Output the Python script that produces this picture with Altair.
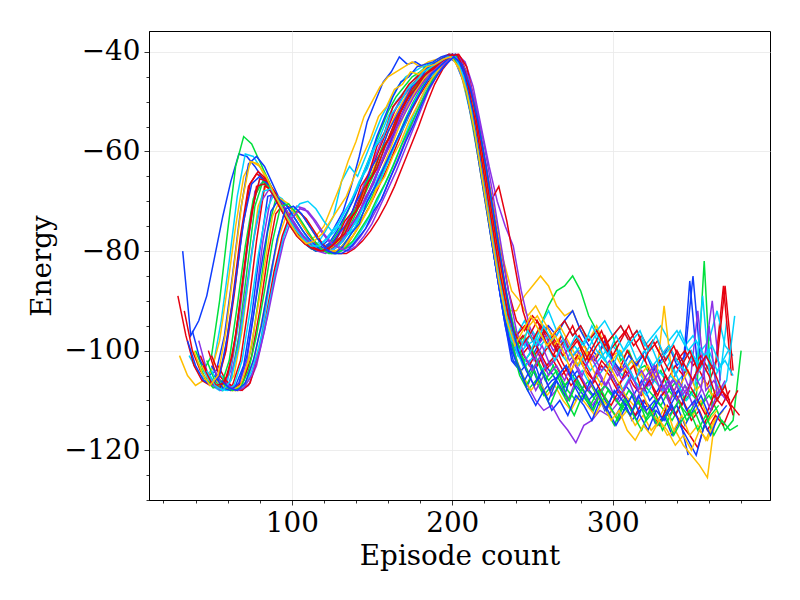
import altair as alt
import pandas as pd

# start episode of each run (samples every 5 episodes)
run_start = [32, 40, 36, 30, 38, 29, 42, 45, 47, 44, 48, 50, 52, 55, 50, 56, 57, 58, 54, 50,
             33, 35, 41, 46, 49, 53, 45, 52, 58, 60, 43, 47, 39, 56]
run_color = ["blue", "green", "cyan", "orange", "blue", "red", "purple", "cyan", "green", "orange",
             "red", "blue", "purple", "green", "red", "cyan", "orange", "purple", "red", "cyan",
             "red", "blue", "green", "purple", "cyan", "orange", "red", "blue", "green", "purple",
             "red", "cyan", "orange", "blue"]

run00 = [-80, -97, -94, -89, -81, -73, -66, -60.5, -61, -63, -65.5, -68, -71, -73.5, -76, -78, -79.5, -79.5, -78, -75, -72, -67, -61, -54, -50, -46, -44, -41, -42.5, -42, -43, -42.5, -42, -41, -42, -46, -53, -62, -72, -83, -93, -102, -104, -107, -103, -108, -106, -105, -110, -107, -109, -112, -108, -111, -113, -110, -114, -112, -111, -115, -113, -117, -114, -121]
run01 = [-100, -104, -101, -90, -76, -63, -57, -58.5, -62, -65.5, -69, -72.5, -75.5, -77.5, -79, -80, -79.5, -78, -75.5, -72, -68, -64, -60, -56, -52, -49, -47, -45, -44, -42.5, -42, -41, -40.5, -43, -49, -58, -68, -78, -88, -95, -99, -97, -100, -95, -91, -88, -87, -85, -88, -93, -96, -99, -97, -102, -100, -104, -103, -106, -104, -108, -106, -110, -108, -111, -109, -112, -116, -114, -100]
run02 = [-101, -104, -106, -103, -94, -82, -69, -60.5, -61, -63.5, -66.5, -70, -73, -75.5, -77.5, -79, -78.5, -76, -73, -66, -63, -65, -61, -57, -53, -50, -47, -45, -44, -43, -42.5, -42, -41, -41, -45, -52, -61, -71, -81, -90, -97, -101, -99, -98, -101, -97, -100, -102, -99, -101, -104, -102, -100, -103, -105, -102, -104, -107, -103, -105, -102, -106, -104, -107, -105, -102, -108, -94]
run03 = [-101, -105, -107, -106, -104, -98, -87, -75, -65, -62, -63, -66, -69.5, -72.5, -75, -77, -78, -77, -75, -71, -67, -62, -58, -53, -50, -47, -45, -44, -43, -42, -43, -42, -41.5, -41, -41, -44, -50, -59, -69, -79, -87, -92, -92, -89, -87, -85, -87, -91, -93, -92, -96, -98, -95, -99, -101, -100, -104, -102, -106, -105, -108, -110, -107, -111, -113, -110, -114, -112]
run04 = [-96, -102, -105, -104, -97, -85, -72, -62.5, -61, -63, -66.5, -70, -73.5, -76, -78, -79.5, -79.5, -78.5, -76, -73, -70, -66, -62, -57, -53, -49, -46, -45, -43, -42.5, -42, -41, -40.5, -42, -47, -55, -65, -75, -85, -95, -102, -104, -102, -106, -103, -105, -108, -106, -104, -107, -109, -106, -108, -110, -107, -109, -106, -110, -108, -105, -109, -107, -86, -104]
run05 = [-89, -97, -103, -106, -107, -106, -100, -89, -76, -66.5, -64, -65.5, -68.5, -71.5, -74.5, -77, -78.5, -79.5, -80, -79.5, -78, -75.5, -72, -68, -64, -60, -56, -52, -49, -47, -45, -43.5, -42.5, -41.5, -40.5, -42, -47, -55, -65, -75, -85, -94, -99, -97, -100, -98, -95, -98, -101, -99, -97, -100, -102, -99, -101, -104, -100, -103, -101, -105, -102, -106, -103, -105, -101, -104, -107, -103, -87, -105]
run06 = [-98, -104, -107, -107.5, -104, -94, -80, -68, -66, -67.5, -70.5, -73.5, -76, -78, -79.5, -80, -79.5, -78, -75.5, -72.5, -69, -65, -61, -57, -53, -50, -48, -46, -44.5, -43, -42, -41, -41, -44, -51, -60, -70, -80, -90, -98, -104, -107, -110, -112, -111, -114, -116, -118.5, -115, -114, -112, -113, -111, -109, -112, -110, -113, -111, -108, -112, -110]
run07 = [-104, -107, -108, -106, -98, -85, -72, -65.5, -66, -69, -72, -74.5, -76.5, -78.5, -79, -78, -76, -74, -71, -68, -64, -60, -57, -53, -50, -48, -46, -44, -43, -42, -41.5, -40.5, -43, -49, -57, -67, -77, -87, -94, -97, -94, -98, -95, -92, -96, -94, -97, -95, -98, -96, -94, -97, -95, -98, -96, -99, -97, -95, -98, -96, -99, -97, -100, -98, -92, -99, -101]
run08 = [-102, -106, -108, -106, -97, -84, -71, -66, -67.5, -70.5, -73.5, -76, -78, -79.5, -80, -80, -79, -77, -74.5, -71, -67.5, -64, -60, -56, -52.5, -49.5, -47, -45, -43, -42, -41, -41, -45, -52, -61, -71, -81, -91, -99, -105, -108, -106, -109, -107, -105, -108, -110, -107, -109, -111, -108, -110, -112, -109, -111, -113, -110, -112, -114, -111, -113, -110, -82, -112]
run09 = [-103, -106, -107, -107.5, -105, -96, -83, -71, -67, -68, -71, -74, -76.5, -78.5, -79.5, -80, -79.5, -78, -75.5, -72.5, -69, -65, -61, -57, -53, -50, -47.5, -45.5, -44, -42.5, -41.5, -40.5, -42.5, -48, -56, -66, -76, -86, -95, -101, -105, -108, -106, -109, -107, -110, -112, -109, -111, -113, -110, -112, -114, -112, -115, -113, -116, -114, -117, -116, -119, -121, -123, -125.5, -113]
run10 = [-100, -105, -107, -107, -102, -91, -78, -67, -67.5, -70, -73, -75.5, -77.5, -79, -80, -80, -79, -77, -74.5, -71.5, -68, -64.5, -61, -57, -53, -50, -47.5, -45.5, -43.5, -42, -40.5, -41, -45, -52, -61, -71, -81, -90, -97, -100, -103, -100, -104, -102, -105, -103, -101, -104, -106, -103, -105, -108, -104, -107, -109, -106, -110, -108, -112, -115, -117, -119.5, -114, -111, -108, -110]
run11 = [-103, -106, -107.5, -107, -103, -93, -80, -69, -68.5, -71, -73.5, -76, -78, -79.5, -80, -80, -78.5, -76.5, -74, -70.5, -67, -63, -59, -55, -51.5, -48.5, -46, -44, -42.5, -41.5, -40.5, -43, -48, -56, -66, -77, -87, -96, -100, -98, -101, -98, -95, -97, -94, -92, -96, -99, -101, -98, -102, -104, -101, -103, -100, -104, -102, -99, -103, -101, -85, -103]
run12 = [-104, -107, -108, -107, -102, -91, -78, -69, -69.5, -72, -74.5, -77, -78.5, -79.5, -80, -79.5, -78, -75.5, -72.5, -69, -65, -61, -57, -53.5, -50.5, -48, -45.5, -43.5, -42, -41, -40.5, -44, -50, -59, -69, -79, -88, -96, -101, -104, -108, -105, -109, -107, -110, -106, -108, -111, -109, -106, -110, -108, -105, -109, -107, -104, -108, -106, -103, -107, -105, -102, -90, -106]
run13 = [-106, -107.5, -108, -106, -99, -88, -76, -69.5, -70, -72.5, -75, -77.5, -79, -80, -80.5, -79.5, -77.5, -75, -72, -69, -65.5, -62, -58, -54, -50.5, -47.5, -45, -43, -41.5, -41, -43, -48, -56, -65, -75, -85, -94, -99, -102, -100, -103, -106, -104, -107, -105, -108, -106, -109, -107, -109, -111, -108, -110, -107, -109, -111, -108, -110, -107, -109, -111, -108, -110, -107]
run14 = [-101, -105, -107, -107.5, -106, -101, -92, -81, -72.5, -70.5, -71.5, -74, -76.5, -78.5, -80, -80.5, -80, -78.5, -76, -73, -70, -66.5, -63, -59, -55, -51.5, -48.5, -46, -44, -42, -40.5, -41, -45, -52, -61, -70, -79, -88, -94, -96, -93, -95, -98, -96, -94, -97, -95, -98, -96, -99, -97, -95, -98, -96, -100, -98, -101, -99, -102, -100, -103, -101, -104, -102, -87, -104]
run15 = [-105, -107, -108, -107, -104, -97, -87, -77.5, -71.5, -71, -72.5, -75, -77.5, -79, -80, -80, -79, -77, -74.5, -71.5, -68, -64.5, -60.5, -56.5, -52.5, -49, -46, -43.5, -42, -41, -43, -48, -56, -66, -76, -86, -95, -101, -103, -101, -104, -102, -105, -103, -106, -104, -107, -105, -103, -106, -108, -105, -107, -109, -106, -108, -105, -107, -110, -108, -89, -107, -109, -106, -93]
run16 = [-107, -108, -108, -106, -101, -93, -84, -77, -72.5, -71.5, -73, -75.5, -78, -79.5, -80, -79.5, -77.5, -75, -72, -68, -63, -59, -55, -51, -48, -45.5, -44, -42.5, -41.5, -40.5, -43, -48, -56, -65, -74, -82, -88, -90, -93, -91, -94, -97, -95, -98, -101, -99, -102, -100, -103, -101, -104, -102, -105, -103, -106, -91, -105, -107, -104, -108, -106, -109, -107]
run17 = [-106, -107.5, -108, -107, -103, -96, -87, -79, -73.5, -71, -71.5, -73.5, -76, -78, -79, -79.5, -79, -77, -74.5, -71.5, -68, -64, -60, -56, -52, -48.5, -45.5, -43, -41.5, -40.5, -42, -47, -55, -63, -70, -75, -79, -88, -95, -99, -97, -100, -98, -102, -100, -103, -101, -104, -102, -105, -103, -106, -104, -107, -105, -108, -106, -109, -107, -92, -108, -106, -109]
run18 = [-103, -106, -107.5, -108, -106.5, -101, -93, -84, -77, -72.5, -72, -73.5, -76, -78.5, -80, -80.5, -80.5, -79.5, -78, -76, -73.5, -70.5, -67, -63, -59, -55, -50.5, -46.5, -43.5, -41.5, -40.5, -43, -50, -60, -70, -67, -74, -83, -92, -97, -100, -103, -101, -104, -107, -105, -108, -106, -109, -111, -108, -110, -113, -110, -112, -115, -111, -113, -110, -114, -112, -116, -113, -115, -111, -113]
run19 = [-104, -107, -108, -107.5, -107, -104, -99, -92, -84, -77, -72.5, -70.5, -70, -71.5, -74, -76, -75, -76.5, -74, -71, -68, -66, -62, -58, -55, -51, -48, -45.5, -43.5, -42, -41, -42, -46, -53, -62, -72, -82, -91, -97, -99, -96, -99, -97, -100, -98, -101, -99, -97, -100, -102, -99, -101, -98, -102, -100, -103, -101, -99, -102, -104, -101, -103, -100, -104, -102, -105]
run20 = [-92, -100, -104, -106.5, -106, -101, -90, -77, -67, -64.5, -65.5, -68, -71, -74, -76.5, -78.5, -79.5, -80, -79, -77.5, -74, -72, -67, -64.5, -59, -56, -51, -49, -46.5, -45, -43.5, -42.5, -41.5, -40.5, -41, -45, -52, -62, -72, -82, -91, -98, -101, -99, -103, -100, -98, -102, -105, -101, -103, -106, -102, -104, -107, -105, -103, -108, -106, -109, -105, -108, -111, -107, -110, -113, -109, -111, -108]
run21 = [-98, -103, -106, -107, -105, -97, -86, -74, -66.5, -65, -66.5, -69.5, -72.5, -75, -77.5, -79, -80, -79.5, -78.5, -76, -74.5, -70, -67.5, -63, -60.5, -56, -53, -50, -47, -45.5, -43, -42, -41, -40.5, -43, -49, -58, -68, -79, -89, -97, -102, -106, -103, -107, -110, -106, -109, -104, -107, -110, -108, -112, -109, -107, -111, -114, -110, -112, -109, -113, -111, -115, -112, -109, -113]
run22 = [-102, -105.5, -107.5, -107, -102, -91, -79, -69.5, -66.5, -67, -69.5, -72.5, -75, -77.5, -79, -80, -80, -78.5, -77, -73.5, -71, -66.5, -64, -59.5, -57, -53, -50, -47.5, -45.5, -43.5, -42.5, -41.5, -41, -44, -51, -60, -70, -80, -90, -97, -103, -107, -104, -108, -111, -107, -110, -113, -109, -111, -108, -112, -115, -111, -113, -110, -114, -112, -116, -113, -110, -114, -112, -116, -113, -111]
run23 = [-104, -107, -108, -106.5, -100, -89, -78, -70, -67.5, -69, -71.5, -74.5, -77, -78.5, -80, -80.5, -79.5, -78, -75, -73, -69, -66.5, -62, -59, -55, -52, -49, -46.5, -44.5, -43, -41.5, -40.5, -44, -50, -59, -69, -79, -89, -96, -100, -98, -102, -99, -103, -101, -98, -102, -105, -101, -104, -107, -103, -106, -104, -108, -105, -103, -107, -110, -106, -109, -105, -108, -112, -108, -110]
run24 = [-105, -107.5, -108, -107, -102, -92, -81, -72, -68.5, -69.5, -72, -74.5, -77, -79, -80, -80, -79, -77, -75.5, -71.5, -69, -65, -62, -58.5, -55, -51.5, -48.5, -46, -44, -42.5, -41, -41.5, -46, -54, -64, -74, -84, -93, -99, -103, -100, -96, -99, -102, -98, -101, -103, -100, -97, -101, -104, -100, -103, -106, -102, -99, -103, -101, -105, -102, -100, -104, -101, -105, -102]
run25 = [-106, -107.5, -108, -107, -102, -93, -83, -73, -69.5, -70.5, -73, -75.5, -77.5, -79.5, -80, -80, -78.5, -77, -74, -71.5, -67.5, -65, -61, -58, -54, -51, -47.5, -45, -43, -41.5, -41, -44, -51, -60, -70, -80, -89, -95, -99, -95, -93, -96, -99, -97, -100, -103, -100, -104, -107, -103, -106, -109, -111, -108, -112, -114, -111, -116, -113, -117, -115, -118, -114]
run26 = [-103, -106.5, -107.5, -105, -97, -84, -72, -65.5, -66, -68.5, -71.5, -74.5, -77, -78.5, -79.5, -80, -79, -77.5, -74, -72, -67.5, -65, -60.5, -57.5, -53.5, -50.5, -47.5, -45.5, -44, -42.5, -41.5, -40.5, -42, -47, -55, -65, -75, -85, -93, -97, -95, -98, -95, -97, -100, -98, -95, -99, -102, -99, -97, -101, -98, -95, -99, -102, -98, -101, -104, -100, -103, -106, -102, -105, -110, -107, -113]
run27 = [-105, -107.5, -108, -106.5, -101, -91, -81, -72, -69.5, -71, -73.5, -76, -78, -79.5, -80, -80.5, -79, -76.5, -74.5, -70, -67, -63.5, -60, -56.5, -53, -50, -47, -44.5, -43, -41.5, -40.5, -44, -51, -61, -72, -83, -93, -100, -104, -108, -111, -108, -112, -110, -113, -109, -111, -114, -110, -112, -115, -112, -109, -113, -116, -112, -114, -111, -115, -118, -121, -115]
run28 = [-107, -108, -107.5, -104, -97, -88, -78, -71, -70.5, -72.5, -75, -77.5, -79.5, -80.5, -80.5, -79.5, -78, -75.5, -73, -69.5, -66.5, -63, -59, -55.5, -52, -48.5, -45.5, -43.5, -41.5, -41, -43.5, -49, -57, -67, -77, -87, -95, -101, -105, -102, -106, -103, -107, -110, -106, -109, -112, -108, -111, -114, -110, -113, -116, -112, -115, -113, -117, -114, -112, -116, -113, -117, -114, -116, -115]
run29 = [-107, -108, -107.5, -105, -100, -93, -85, -78, -73.5, -71.5, -72, -74, -76.5, -78.5, -79.5, -80, -79, -77, -74.5, -71, -67.5, -64, -60, -56, -52, -48, -45, -42.5, -41, -41.5, -45, -51, -59, -68, -78, -88, -96, -101, -104, -101, -105, -103, -106, -102, -105, -108, -104, -107, -105, -109, -106, -110, -107, -104, -108, -106, -110, -107, -111, -108, -95, -109, -106]
run30 = [-101, -105, -107, -106.5, -101, -90, -77, -67, -66.5, -68.5, -71.5, -74.5, -77, -78.5, -79.5, -80, -79.5, -78, -76.5, -73, -70.5, -66, -63.5, -59, -56, -52, -49, -47, -44.5, -43.5, -42, -41, -40.5, -44, -50, -59, -69, -79, -88, -96, -99, -97, -94, -98, -101, -97, -100, -98, -102, -99, -96, -100, -98, -96, -99, -97, -100, -98, -102, -99, -103, -100, -104, -101, -104, -108, -111, -108]
run31 = [-104, -107, -108, -106, -99, -88, -76, -68, -67.5, -70, -73, -75.5, -77.5, -79, -79, -77.5, -76, -72.5, -70, -66, -63.5, -59, -57, -52.5, -50.5, -47.5, -46, -44, -43, -42, -41, -41, -45, -52, -62, -72, -82, -91, -98, -100, -96, -99, -95, -98, -96, -100, -97, -99, -95, -98, -101, -97, -100, -98, -96, -100, -97, -101, -99, -96, -100, -98, -101, -99, -103, -100]
run32 = [-100, -104.5, -107, -105, -96, -83, -70, -62, -62.5, -65, -68.5, -71.5, -74.5, -77, -78.5, -78, -76.5, -74, -71.5, -69, -65, -61, -57.5, -53, -51, -47.5, -46.5, -44, -44.5, -43, -42.5, -41.5, -41, -43, -48, -56, -66, -76, -86, -94, -99, -96, -93, -96, -99, -97, -100, -104, -101, -105, -108, -111, -114, -112, -116, -118, -115, -117, -114, -116, -119, -117, -120, -116, -118, -114, -112]
run33 = [-106, -107.5, -108, -106.5, -102, -95, -86, -77.5, -71.5, -71, -72.5, -75, -77.5, -79.5, -80.5, -80.5, -79.5, -77.5, -75.5, -72, -69.5, -65.5, -62, -58, -54.5, -50.5, -47, -44.5, -42.5, -41, -42.5, -47, -54, -63, -73, -83, -93, -100, -104, -107, -104, -108, -105, -103, -107, -110, -106, -109, -112, -108, -110, -113, -109, -112, -110, -114, -111, -108, -112, -110, -114, -117, -113, -111]

runs = [run00, run01, run02, run03, run04, run05, run06, run07, run08, run09,
        run10, run11, run12, run13, run14, run15, run16, run17, run18, run19,
        run20, run21, run22, run23, run24, run25, run26, run27, run28, run29,
        run30, run31, run32, run33]

color_names = ["blue", "cyan", "green", "orange", "red", "purple"]
color_hex = ["#0f3cff", "#00d2ff", "#00e03c", "#ffbf00", "#e6000f", "#8c32e6"]

rows = []
for k, (start, col, ys) in enumerate(zip(run_start, run_color, runs)):
    for i, y in enumerate(ys):
        rows.append({"run": k, "episode": start + 5 * i, "energy": y, "col": col})
df = pd.DataFrame(rows)

FONT = "DejaVu Serif"
x_ticks = list(range(20, 400, 20))
y_ticks = list(range(-130, -35, 5))

chart = alt.Chart(df).mark_line(strokeWidth=1.5, clip=True).encode(
    x=alt.X("episode:Q",
            scale=alt.Scale(domain=[11, 398], nice=False, zero=False),
            axis=alt.Axis(values=x_ticks, title="Episode count",
                          labelExpr="datum.value % 100 === 0 ? datum.label : ''",
                          tickSize={"condition": {"test": "datum.value % 100 === 0", "value": 5}, "value": 3},
                          gridOpacity={"condition": {"test": "datum.value % 100 === 0", "value": 1}, "value": 0},
                          labelPadding=4, titlePadding=6)),
    y=alt.Y("energy:Q",
            scale=alt.Scale(domain=[-130, -35.8], nice=False, zero=False),
            axis=alt.Axis(values=y_ticks, title="Energy",
                          labelExpr="datum.value % 20 === 0 ? datum.label : ''",
                          tickSize={"condition": {"test": "datum.value % 20 === 0", "value": 5}, "value": 3},
                          gridOpacity={"condition": {"test": "datum.value % 20 === 0", "value": 1}, "value": 0},
                          labelPadding=4, titlePadding=7)),
    color=alt.Color("col:N", scale=alt.Scale(domain=color_names, range=color_hex), legend=None),
    detail="run:N",
    order="episode:Q",
).properties(
    width=621, height=469, autosize="none",
    padding={"left": 141, "top": 23, "right": 22, "bottom": 92},
).configure_view(
    stroke="black", strokeWidth=1
).configure_axis(
    labelFont=FONT, titleFont=FONT, labelFontSize=27.8, titleFontSize=27.8,
    labelColor="black", titleColor="black", titleFontWeight="normal",
    domainColor="black", domainWidth=1, tickColor="black", tickWidth=0.8,
    gridColor="#e8e8e8", gridWidth=0.8, labelFlush=False, labelOverlap=False,
)

chart.save("out.html", embed_options={"renderer": "svg", "actions": False})
